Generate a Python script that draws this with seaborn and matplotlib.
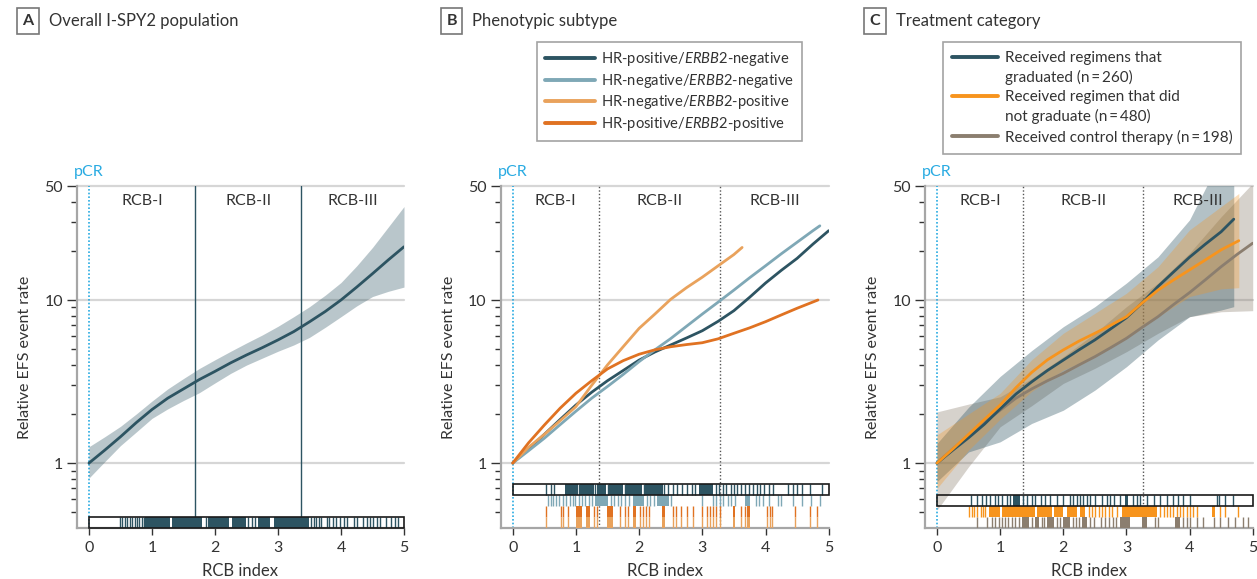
import numpy as np
import pandas as pd
import matplotlib
matplotlib.use('Agg')
import matplotlib.pyplot as plt
import seaborn as sns
from matplotlib.lines import Line2D
from matplotlib.patches import Rectangle
from matplotlib.ticker import FixedLocator, FixedFormatter, NullFormatter

sns.set_style('white')
plt.rcParams['font.family'] = ['Lato', 'DejaVu Sans']
plt.rcParams['mathtext.fontset'] = 'custom'
plt.rcParams['mathtext.rm'] = 'Lato'
plt.rcParams['mathtext.it'] = 'Lato:italic'

# ---------------- data ----------------
rcb_grid = [0, 0.25, 0.5, 0.75, 1, 1.25, 1.5, 1.75, 2, 2.25, 2.5, 2.75, 3,
            3.25, 3.5, 3.75, 4, 4.25, 4.5, 4.75, 5]

# A: overall population
rate_all = [1.0, 1.2, 1.45, 1.77, 2.13, 2.5, 2.85, 3.25, 3.65, 4.12, 4.6, 5.1, 5.69,
            6.4, 7.35, 8.5, 10.0, 12.0, 14.5, 17.6, 21.2]
rate_all_hi = [1.26, 1.45, 1.68, 2.0, 2.4, 2.85, 3.3, 3.8, 4.3, 4.85, 5.45, 6.1, 6.9,
               7.9, 9.1, 10.7, 12.8, 16.2, 21.0, 28.0, 37.4]
rate_all_lo = [0.81, 1.02, 1.28, 1.55, 1.88, 2.15, 2.42, 2.7, 3.1, 3.55, 3.99, 4.4, 4.85,
               5.3, 5.9, 6.8, 7.9, 9.2, 10.5, 11.3, 12.0]
cut_a = [1.69, 3.37]

# B: phenotypic subtype
subtype_names = ['HR-positive/$\\mathit{ERBB2}$-negative', 'HR-negative/$\\mathit{ERBB2}$-negative',
                 'HR-negative/$\\mathit{ERBB2}$-positive', 'HR-positive/$\\mathit{ERBB2}$-positive']
x_hrpos_her2neg = rcb_grid
y_hrpos_her2neg = [1.0, 1.22, 1.5, 1.85, 2.27, 2.72, 3.2, 3.7, 4.28, 4.8, 5.3, 5.85, 6.48,
                   7.4, 8.6, 10.4, 12.7, 15.2, 18.0, 22.0, 26.6]
x_hrneg_her2neg = rcb_grid[:-1] + [4.86]
y_hrneg_her2neg = [1.0, 1.19, 1.42, 1.72, 2.08, 2.5, 2.95, 3.5, 4.19, 4.95, 5.8, 6.9, 8.2,
                   9.7, 11.5, 13.7, 16.2, 19.2, 22.6, 26.6, 28.5]
x_hrneg_her2pos = rcb_grid[:15] + [3.63]
y_hrneg_her2pos = [1.0, 1.25, 1.5, 1.82, 2.22, 3.0, 4.0, 5.18, 6.7, 8.2, 10.1, 11.9, 13.8,
                   16.2, 19.0, 21.0]
x_hrpos_her2pos = rcb_grid[:19] + [4.83]
y_hrpos_her2pos = [1.0, 1.33, 1.71, 2.17, 2.68, 3.2, 3.78, 4.25, 4.65, 4.95, 5.17, 5.33, 5.47,
                   5.78, 6.25, 6.75, 7.36, 8.1, 8.9, 10.0]
cut_b = [1.36, 3.28]

# C: treatment category
x_grad = rcb_grid[:19] + [4.7]
y_grad = [1.0, 1.2, 1.43, 1.73, 2.15, 2.65, 3.15, 3.7, 4.28, 4.95, 5.69, 6.65, 7.79,
          9.6, 12.1, 14.9, 18.3, 22.0, 26.2, 31.3]
x_nograd = rcb_grid[:19] + [4.78]
y_nograd = [1.0, 1.22, 1.5, 1.85, 2.27, 2.9, 3.6, 4.3, 4.94, 5.6, 6.25, 7.0, 7.9,
            9.6, 11.5, 13.3, 15.3, 17.6, 20.3, 23.1]
x_ctrl = rcb_grid
y_ctrl = [1.0, 1.22, 1.48, 1.78, 2.11, 2.5, 2.85, 3.2, 3.55, 4.0, 4.49, 5.1, 5.82,
          6.8, 7.9, 9.4, 11.1, 13.3, 16.0, 19.0, 22.3]

band_x_grad = [0, 0.5, 1, 1.5, 2, 2.5, 3, 3.5, 4, 4.5, 4.7]
band_hi_grad = [1.32, 2.2, 3.4, 4.9, 6.86, 9.1, 12.7, 18.4, 31.0, 75.0, 90.0]
band_lo_grad = [0.77, 1.17, 1.35, 1.75, 2.11, 2.8, 3.9, 5.69, 7.9, 8.68, 9.1]
band_x_nograd = [0, 0.5, 1, 1.5, 2, 2.5, 3, 3.5, 4, 4.5, 4.78]
band_hi_nograd = [1.49, 2.0, 2.68, 4.3, 6.25, 8.28, 11.0, 16.0, 26.9, 37.4, 45.0]
band_lo_nograd = [0.70, 1.2, 1.86, 2.75, 3.72, 4.49, 5.96, 7.9, 10.5, 11.7, 11.9]
band_x_ctrl = [0, 0.5, 1, 1.5, 2, 2.5, 3, 3.5, 4, 4.5, 5]
band_hi_ctrl = [2.06, 2.3, 2.55, 3.3, 4.49, 6.25, 9.1, 12.7, 19.4, 32.4, 52.0]
band_lo_ctrl = [0.515, 0.95, 1.67, 2.25, 3.08, 3.81, 4.82, 6.25, 7.9, 8.47, 8.6]
cut_c = [1.36, 3.27]
treat_names = ['Received regimens that', 'graduated (n\u2009=\u2009260)',
               'Received regimen that did', 'not graduate (n\u2009=\u2009480)',
               'Received control therapy (n\u2009=\u2009198)']

# rug marks: single ticks and dense blocks (RCB index)
rug_a_ticks = [0.50, 0.53, 0.57, 0.61, 0.65, 0.69, 0.73, 0.77, 0.80, 0.84, 0.87, 1.85,
               2.53, 2.58, 2.63, 3.53, 3.57, 3.61, 3.65, 3.69, 3.77, 3.81, 3.87, 3.92,
               3.98, 4.04, 4.09, 4.20, 4.26, 4.35, 4.41, 4.46, 4.51, 4.57, 4.62, 4.72,
               4.80, 4.86, 4.91]
rug_a_blocks = [(0.89, 1.28), (1.31, 1.80), (1.89, 2.23), (2.27, 2.50), (2.69, 2.87),
                (2.94, 3.50)]

rug_b1_ticks = [0.52, 0.60, 0.65, 1.05, 1.31, 1.50, 1.77, 2.07, 2.40, 2.45, 2.54, 2.60,
                2.68, 2.75, 2.83, 2.88, 3.22, 3.27, 3.32, 3.38, 3.45, 3.50, 3.55, 3.62,
                3.68, 3.74, 3.80, 3.86, 3.92, 3.98, 4.05, 4.12, 4.36, 4.44, 4.50, 4.58,
                4.70, 4.89]
rug_b1_blocks = [(0.83, 1.03), (1.07, 1.29), (1.33, 1.48), (1.52, 1.75), (1.79, 2.05),
                 (2.09, 2.38), (2.94, 3.17)]
rug_b2_ticks = [0.56, 0.60, 0.64, 0.69, 0.74, 0.79, 0.84, 0.90, 0.95, 0.99, 1.05, 1.10,
                1.15, 1.20, 1.26, 1.55, 1.60, 1.66, 1.72, 1.78, 1.84, 2.12, 2.18, 2.24,
                2.50, 2.99, 3.17, 3.22, 3.28, 3.33, 3.40, 3.46, 3.52, 3.85, 3.90, 3.96,
                4.06, 4.20, 4.25, 4.44, 4.58, 4.72, 4.86]
rug_b2_blocks = [(1.30, 1.50), (1.91, 2.07), (2.28, 2.48), (3.68, 3.75)]
rug_b3_ticks = [0.53, 0.77, 0.80, 0.88, 1.28, 1.34, 1.70, 1.77, 1.83, 2.01, 2.06, 2.11,
                2.16, 2.54, 2.59, 2.67, 2.75, 2.86, 2.99, 3.07, 3.12, 3.17, 3.21, 3.28,
                3.62, 3.67, 4.02, 4.07, 4.11, 4.47, 4.70, 4.82]
rug_b3_blocks = [(1.00, 1.09), (1.16, 1.22), (1.49, 1.59), (1.90, 1.95), (2.36, 2.41),
                 (3.49, 3.52), (3.70, 3.75)]
rug_b4_ticks = rug_b3_ticks
rug_b4_blocks = rug_b3_blocks

rug_c1_ticks = [0.54, 0.64, 0.71, 0.78, 0.84, 0.92, 0.96, 1.03, 1.11, 1.15, 1.37, 1.43,
                1.50, 1.56, 1.64, 1.71, 1.79, 1.90, 2.00, 2.11, 2.16, 2.21, 2.27, 2.32,
                2.37, 2.43, 2.50, 2.61, 2.69, 2.74, 2.80, 2.90, 3.11, 3.16, 3.22, 3.32,
                3.43, 3.53, 3.64, 3.74, 3.82, 3.90, 4.01, 4.43, 4.47, 4.56, 4.69]
rug_c1_blocks = [(1.20, 1.32), (2.98, 3.03)]
rug_c2_ticks = [0.50, 0.55, 0.59, 0.64, 0.69, 0.73, 0.76, 2.40, 2.45, 2.50, 2.56, 2.61,
                2.66, 2.72, 2.77, 2.85, 3.53, 3.59, 3.64, 3.69, 3.74, 3.80, 3.85, 3.90,
                3.96, 4.01, 4.06, 4.11, 4.48, 4.56, 4.77]
rug_c2_blocks = [(0.82, 1.00), (1.03, 1.56), (1.58, 1.82), (1.85, 2.00), (2.06, 2.21),
                 (2.27, 2.35), (2.93, 3.48), (4.35, 4.40)]
rug_c3_ticks = [0.63, 0.79, 0.87, 0.92, 0.98, 1.03, 1.08, 1.13, 1.19, 1.24, 1.30, 1.50,
                1.67, 1.70, 1.90, 1.95, 2.15, 2.20, 2.25, 2.42, 2.48, 2.60, 2.66, 2.72,
                2.78, 2.84, 3.45, 3.50, 3.90, 3.96, 4.01, 4.11, 4.22, 4.38, 4.48, 4.61,
                4.72, 4.85, 4.93]
rug_c3_blocks = [(1.35, 1.45), (1.55, 1.62), (1.75, 1.85), (2.00, 2.10), (2.30, 2.38),
                 (2.90, 3.06), (3.24, 3.32), (3.77, 3.85)]

# ---------------- styling ----------------
teal = '#2d5462'
ltblue = '#7fa8b6'
ltorange = '#e9a25c'
dkorange = '#e07222'
orange = '#f7941d'
taupe = '#8b7e6f'
pcr_blue = '#29abe2'
txt = '#333333'
W, H = 1257, 579

fig = plt.figure(figsize=(W / 100, H / 100), dpi=100)


def px_axes(left, right, top=186, bottom=528):
    return fig.add_axes([left / W, 1 - bottom / H, (right - left) / W, (bottom - top) / H])


axA = px_axes(77, 404)
axB = px_axes(500.7, 828.7)
axC = px_axes(925, 1252.7)

ROW = 11 / 342  # one rug row, axes fraction


def base_axes(ax, cuts, cut_style):
    ax.set_yscale('log')
    ax.set_ylim(0.4, 50)
    ax.set_xlim(-0.19, 5)
    for s in ['top', 'right']:
        ax.spines[s].set_visible(False)
    for s in ['left', 'bottom']:
        ax.spines[s].set_color('#a6a6a6')
        ax.spines[s].set_linewidth(1.6)
    for yv in [1, 10, 50]:
        ax.axhline(yv, color='#d6d6d6', lw=1.6, zorder=0, clip_on=False)
    ax.yaxis.set_major_locator(FixedLocator([1, 10, 50]))
    ax.yaxis.set_major_formatter(FixedFormatter(['1', '10', '50']))
    ax.yaxis.set_minor_locator(FixedLocator([0.5, 0.6, 0.7, 0.8, 0.9, 2, 3, 4, 5, 6, 7, 8, 9, 20, 30, 40]))
    ax.yaxis.set_minor_formatter(NullFormatter())
    ax.set_xticks(range(6))
    ax.tick_params(axis='y', which='major', length=7, width=1, color=txt, labelsize=11.5,
                   labelcolor=txt, pad=3, left=True)
    ax.tick_params(axis='y', which='minor', length=4.5, width=1, color=txt, left=True)
    ax.tick_params(axis='x', length=5, width=1, color=txt, labelsize=11.5, labelcolor=txt,
                   pad=4, bottom=True)
    ax.set_xlabel('RCB index', fontsize=12, color=txt, labelpad=6)
    ax.set_ylabel('Relative EFS event rate', fontsize=11.5, color=txt, labelpad=9)
    # pCR line and label
    ax.axvline(0, color=pcr_blue, lw=1.2, ls=(0, (1, 1.2)), zorder=1)
    ax.text(0, 1.02, 'pCR', transform=ax.get_xaxis_transform(), ha='center', va='bottom',
            color=pcr_blue, fontsize=11.5)
    for c in cuts:
        if cut_style == 'solid':
            ax.axvline(c, ymin=ROW, color=teal, lw=1.0, zorder=1)
        else:
            ax.axvline(c, color='#555555', lw=1.0, ls=(0, (1, 1.5)), zorder=1)
    edges = [0] + cuts + [5]
    for lab, a, b in zip(['RCB-I', 'RCB-II', 'RCB-III'], edges[:-1], edges[1:]):
        ax.text((a + b) / 2, 0.955, lab, transform=ax.get_xaxis_transform(), ha='center',
                va='center', fontsize=11.5, color=txt)


def rug(ax, ticks, blocks, row, color, box=False):
    y0, y1 = row * ROW, (row + 1) * ROW
    ax.vlines(ticks, y0, y1, transform=ax.get_xaxis_transform(), color=color, lw=1.0, zorder=3)
    for a, b in blocks:
        ax.axvspan(a, b, ymin=y0, ymax=y1, color=color, lw=0, zorder=3)
    if box:
        ax.add_patch(Rectangle((0, y0), 5, ROW, transform=ax.get_xaxis_transform(), fill=False,
                               ec='#1a1a1a', lw=1.2, zorder=4, clip_on=False))


def line(ax, xs, ys, color, lw=2.0):
    sns.lineplot(x=xs, y=ys, ax=ax, color=color, linewidth=lw, errorbar=None, zorder=5)


# ---------------- panel A ----------------
base_axes(axA, cut_a, 'solid')
axA.fill_between(rcb_grid, rate_all_lo, rate_all_hi, color=teal, alpha=0.33, lw=0, zorder=2)
line(axA, rcb_grid, rate_all, teal)
rug(axA, rug_a_ticks, rug_a_blocks, 0, teal, box=True)

# ---------------- panel B ----------------
base_axes(axB, cut_b, 'dotted')
line(axB, x_hrpos_her2neg, y_hrpos_her2neg, teal)
line(axB, x_hrneg_her2neg, y_hrneg_her2neg, ltblue)
line(axB, x_hrneg_her2pos, y_hrneg_her2pos, ltorange)
line(axB, x_hrpos_her2pos, y_hrpos_her2pos, dkorange)
rug(axB, rug_b1_ticks, rug_b1_blocks, 3, teal, box=True)
rug(axB, rug_b2_ticks, rug_b2_blocks, 2, ltblue)
rug(axB, rug_b3_ticks, rug_b3_blocks, 1, dkorange)
rug(axB, rug_b4_ticks, rug_b4_blocks, 0, ltorange)
axB.hlines([ROW, 2 * ROW], 0, 5, transform=axB.get_yaxis_transform(), color='#1a1a1a', lw=1.2, zorder=4)

# ---------------- panel C ----------------
base_axes(axC, cut_c, 'dotted')
axC.fill_between(band_x_ctrl, band_lo_ctrl, band_hi_ctrl, color=taupe, alpha=0.35, lw=0, zorder=2)
axC.fill_between(band_x_grad, band_lo_grad, band_hi_grad, color=teal, alpha=0.36, lw=0, zorder=2)
axC.fill_between(band_x_nograd, band_lo_nograd, band_hi_nograd, color=orange, alpha=0.3, lw=0, zorder=2)
line(axC, x_ctrl, y_ctrl, taupe)
line(axC, x_grad, y_grad, teal)
line(axC, x_nograd, y_nograd, orange)
rug(axC, rug_c1_ticks, rug_c1_blocks, 2, teal, box=True)
rug(axC, rug_c2_ticks, rug_c2_blocks, 1, orange)
rug(axC, rug_c3_ticks, rug_c3_blocks, 0, taupe)
axC.hlines([ROW], 0, 5, transform=axC.get_yaxis_transform(), color='#1a1a1a', lw=1.2, zorder=4)

# ---------------- titles ----------------
for (bx, letter, title) in [(28, 'A', 'Overall I-SPY2 population'),
                            (451.5, 'B', 'Phenotypic subtype'),
                            (875, 'C', 'Treatment category')]:
    fig.text(bx / W, 1 - 21 / H, letter, ha='center', va='center', fontsize=11.5,
             fontweight='bold', color=txt,
             bbox=dict(boxstyle='square,pad=0.35', fc='white', ec='#777777', lw=1.2))
    fig.text((bx + 21) / W, 1 - 21 / H, title, ha='left', va='center', fontsize=12, color=txt)

# ---------------- legends ----------------
hB = [Line2D([], [], color=c, lw=2.8) for c in [teal, ltblue, ltorange, dkorange]]
legB = fig.legend(hB, subtype_names, loc='upper left', bbox_to_anchor=(536.7 / W, 1 - 42 / H),
                  borderaxespad=0, frameon=True, fancybox=False, fontsize=10.6, handlelength=3.4,
                  handletextpad=0.4, labelspacing=0.25, borderpad=0.55, labelcolor=txt)
legB.get_frame().set_edgecolor('#8c8c8c')
legB.get_frame().set_linewidth(1.2)

blank = Line2D([], [], color='none', lw=0)
hC = [Line2D([], [], color=teal, lw=2.8), blank, Line2D([], [], color=orange, lw=2.8), blank,
      Line2D([], [], color=taupe, lw=2.8)]
legC = fig.legend(hC, treat_names, loc='upper left', bbox_to_anchor=(942.7 / W, 1 - 42 / H),
                  borderaxespad=0, frameon=True, fancybox=False, fontsize=11, handlelength=3.0,
                  handletextpad=0.45, labelspacing=0.33, borderpad=0.6, labelcolor=txt)
legC.get_frame().set_edgecolor('#8c8c8c')
legC.get_frame().set_linewidth(1.2)

fig.savefig('out.png', dpi=100)
